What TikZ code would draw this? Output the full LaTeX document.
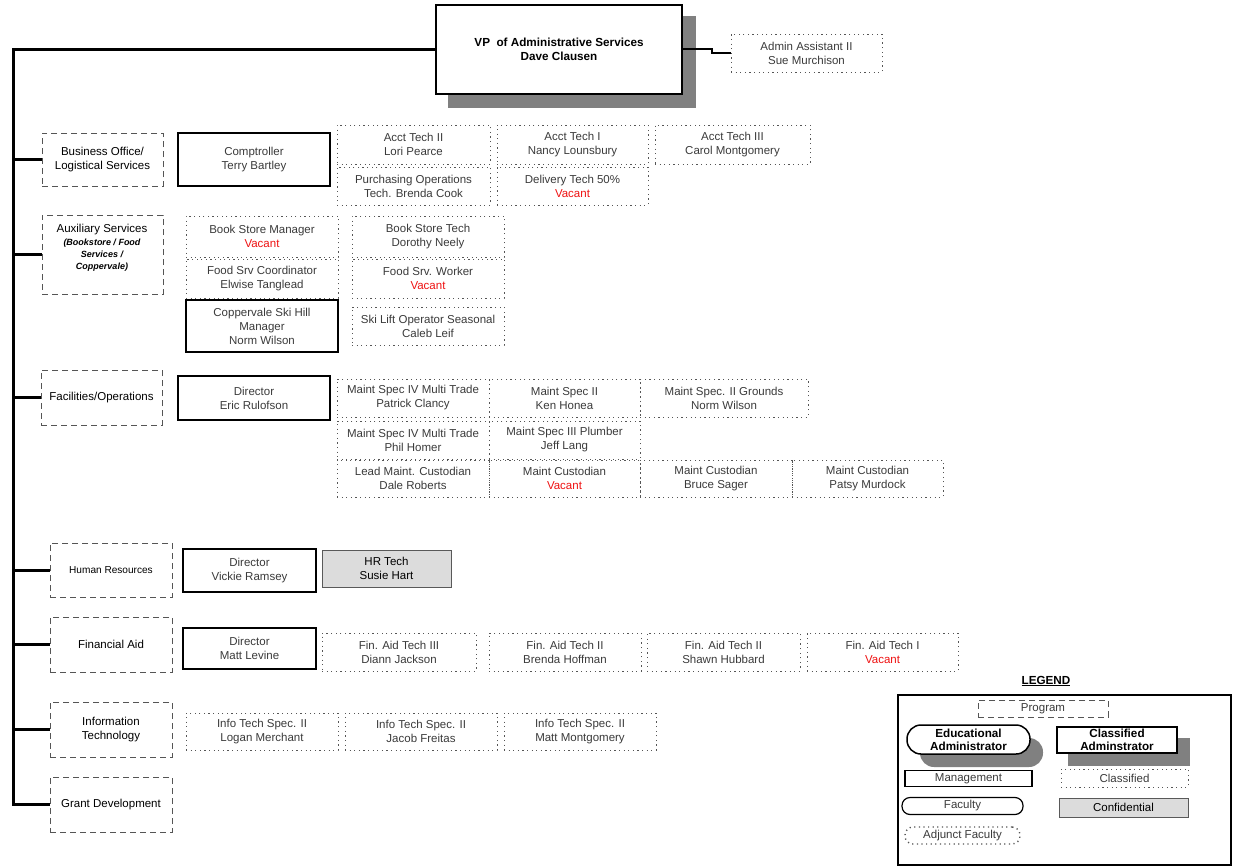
\documentclass[tikz,border=0pt]{standalone}
\usepackage{fontspec}
\setmainfont{Liberation Sans}
\definecolor{txt}{HTML}{3A3A3A}
\definecolor{dotc}{HTML}{555555}
\definecolor{dashc}{HTML}{555555}
\definecolor{shadowc}{HTML}{808080}
\definecolor{confc}{HTML}{DCDCDC}
\definecolor{vac}{HTML}{EE1111}
\newcommand\fs{\fontsize{11.5}{14}\selectfont}
\newcommand\bfs{\fontsize{11.7}{14}\selectfont\bfseries}
\newcommand\vacant{\textcolor{vac}{Vacant}}
\newcommand\auxsub{\fontsize{9}{12}\selectfont\bfseries\itshape}
\tikzset{
  base/.style={inner sep=0pt, outer sep=0pt, align=center, anchor=north west, font=\fs, text=txt},
  sz/.style 2 args={minimum width=#1pt, minimum height=#2pt},
  cls/.style={base, draw=dotc, dash pattern=on 1.2pt off 3.4pt, line width=0.9pt},
  mgmt/.style={base, draw=black, line width=1.5pt},
  prog/.style={base, draw=dashc, dash pattern=on 6pt off 4pt, line width=1pt, text=black},
  conf/.style={base, draw=black!65, fill=confc, line width=0.8pt, text=black},
  trunk/.style={line width=3pt},
}
\begin{document}
\begin{tikzpicture}[x=1pt,y=-1pt]
\useasboundingbox (0,0) rectangle (1233,867);
% VP
\fill[shadowc] (448,16) rectangle (696,108);
\node[base, draw=black, fill=white, line width=1.5pt, sz={246}{89}, text=black,
  font=\bfs] (vp) at (436,5) {VP\ \ of Administrative Services\\Dave Clausen};
\node[cls, sz={151}{38}] (aa) at (731,34) {Admin Assistant II\\Sue Murchison};
\draw[line width=2pt] (vp.east) -- ++(30,0) |- (aa.west);
% trunk
\coordinate (top) at (13,49.5);
\coordinate (bot) at (13,805.5);
\draw[trunk] (vp.west) -- (top) -- (bot);
% departments
\node[prog, sz={121}{53}] (bus) at (42,133) {Business Office/\\Logistical Services};
\node[prog, sz={121}{79}] (aux) at (42,215) {};
\node[base, text=black, anchor=north] (auxt) at (102,224) {Auxiliary Services\\[-1pt]
  \auxsub (Bookstore / Food\\[-2pt]\auxsub Services /\\[-2pt]\auxsub Coppervale)};
\node[prog, sz={121}{55}] (fac) at (41,370) {Facilities/Operations};
\node[prog, sz={122}{54}, font=\fontsize{10.1}{13}\selectfont] (hr) at (50,543) {Human Resources};
\node[prog, sz={122}{55}] (fa) at (50,617) {Financial Aid};
\node[prog, sz={122}{55}] (it) at (50,702) {Information\\Technology};
\node[prog, sz={122}{55}] (gd) at (50,777) {Grant Development};
\foreach \d in {bus,aux,fac,hr,fa,it,gd}
  \draw[trunk] (\d.west) -- (\d.west -| top);
% management
\node[mgmt, sz={152}{53}] (comp) at (178,133) {Comptroller\\Terry Bartley};
\node[mgmt, sz={152}{52}] (skim) at (186,300) {Coppervale Ski Hill\\Manager\\Norm Wilson};
\node[mgmt, sz={152}{44}] (dire) at (178,376) {Director\\Eric Rulofson};
\node[mgmt, sz={133}{43}] (dirv) at (183,549) {Director\\Vickie Ramsey};
\node[mgmt, sz={133}{41}] (dirm) at (183,628) {Director\\Matt Levine};
\node[conf, sz={129}{37}] (hrt) at (322,550) {HR Tech\\Susie Hart};
% business
\node[cls, sz={153}{39}] (at2) at (337,125) {Acct Tech II\\Lori Pearce};
\node[cls, sz={151}{39}] (at1) at (497,125) {Acct Tech I\\Nancy Lounsbury};
\node[cls, sz={155}{39}] (at3) at (655,125) {Acct Tech III\\Carol Montgomery};
\node[cls, sz={153}{38}] (po) at (337,167) {Purchasing Operations\\Tech. Brenda Cook};
\node[cls, sz={151}{38}] (dt) at (497,167) {Delivery Tech 50\%\\\vacant};
% auxiliary
\node[cls, sz={152}{41}] (bsm) at (186,216) {Book Store Manager\\\vacant};
\node[cls, sz={152}{41}] (bst) at (352,216) {Book Store Tech\\Dorothy Neely};
\node[cls, sz={152}{39}] (fsc) at (186,259) {Food Srv Coordinator\\Elwise Tanglead};
\node[cls, sz={152}{39}] (fsw) at (352,259) {Food Srv. Worker\\\vacant};
\node[cls, sz={152}{38}] (slo) at (352,307) {Ski Lift Operator Seasonal\\Caleb Leif};
% facilities
\node[cls, sz={152}{38}] (m1) at (337,379) {Maint Spec IV Multi Trade\\Patrick Clancy};
\node[cls, sz={151}{38}] (m2) at (489,379) {Maint Spec II\\Ken Honea};
\node[cls, sz={168}{38}] (m3) at (640,379) {Maint Spec. II Grounds\\Norm Wilson};
\node[cls, sz={152}{38}] (m4) at (337,421) {Maint Spec IV Multi Trade\\Phil Homer};
\node[cls, sz={151}{38}] (m5) at (489,421) {Maint Spec III Plumber\\Jeff Lang};
\node[cls, sz={152}{37}] (m6) at (337,460) {Lead Maint. Custodian\\Dale Roberts};
\node[cls, sz={151}{37}] (m7) at (489,460) {Maint Custodian\\\vacant};
\node[cls, sz={152}{37}] (m8) at (640,460) {Maint Custodian\\Bruce Sager};
\node[cls, sz={151}{37}] (m9) at (792,460) {Maint Custodian\\Patsy Murdock};
% financial aid
\node[cls, sz={154}{38}] (f1) at (322,633) {Fin. Aid Tech III\\Diann Jackson};
\node[cls, sz={152}{38}] (f2) at (489,633) {Fin. Aid Tech II\\Brenda Hoffman};
\node[cls, sz={153}{38}] (f3) at (647,633) {Fin. Aid Tech II\\Shawn Hubbard};
\node[cls, sz={151}{38}] (f4) at (807,633) {Fin. Aid Tech I\\\vacant};
% IT
\node[cls, sz={152}{37}] (i1) at (186,713) {Info Tech Spec. II\\Logan Merchant};
\node[cls, sz={152}{37}] (i2) at (345,713) {Info Tech Spec. II\\Jacob Freitas};
\node[cls, sz={152}{37}] (i3) at (504,713) {Info Tech Spec. II\\Matt Montgomery};
% legend
\node[base, anchor=center, text=black, font=\bfs] (legt) at (1046,681) {\underline{LEGEND}};
\node[base, draw=black, line width=1.2pt, sz={333}{170}] (legbox) at (898,695) {};
\node[prog, sz={130}{17}, text=txt, draw=dotc] (lprog) at (978,700) {Program};
\fill[shadowc, rounded corners=14pt] (920,738) rectangle (1043,767);
\node[base, draw=black, fill=white, line width=1.5pt, rounded corners=14pt, sz={123}{29}, text=black,
  font=\fontsize{11.7}{13}\selectfont\bfseries] (ledu) at (907,725) {Educational\\Administrator};
\fill[shadowc] (1068,738) rectangle (1190,766);
\node[base, draw=black, fill=white, line width=1.5pt, sz={120}{26}, text=black,
  font=\fontsize{11.7}{13}\selectfont\bfseries] (lcla) at (1057,727) {Classified\\Adminstrator};
\node[mgmt, line width=1.2pt, sz={127}{16}] (lman) at (905,770.5) {Management};
\node[cls, sz={127}{18}] (lcls) at (1061,769) {Classified};
\node[mgmt, line width=1.2pt, rounded corners=8pt, sz={121}{17}] (lfac) at (902,797.5) {Faculty};
\node[conf, sz={129}{19}] (lconf) at (1059,798) {Confidential};
\node[cls, line width=1.4pt, rounded corners=8pt, sz={115}{17}] (ladj) at (905,827) {Adjunct Faculty};
\end{tikzpicture}
\end{document}
